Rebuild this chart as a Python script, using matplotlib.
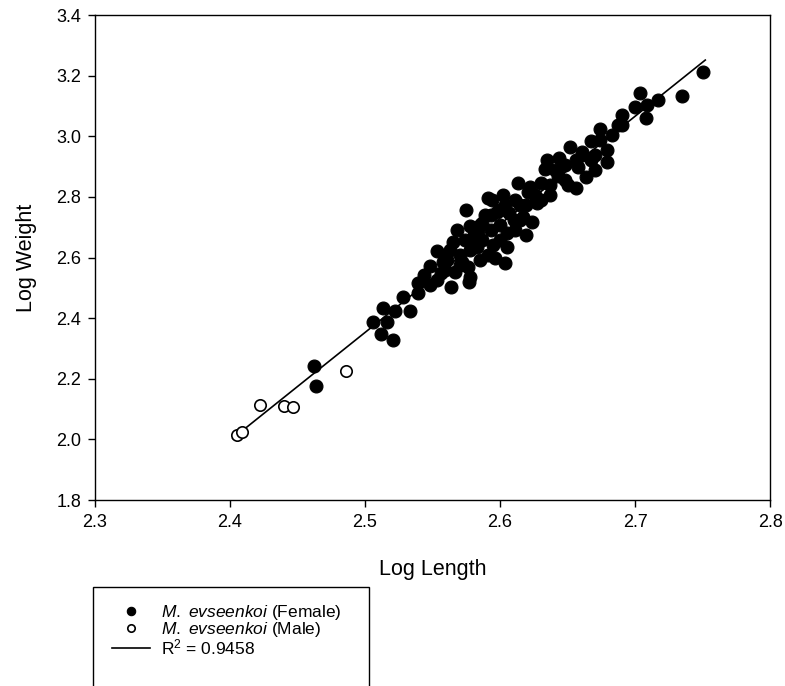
import matplotlib
matplotlib.use("Agg")
import matplotlib.pyplot as plt
from matplotlib.patches import Rectangle

plt.rcParams['font.family'] = ['Liberation Sans', 'DejaVu Sans']
plt.rcParams['mathtext.fontset'] = 'custom'
plt.rcParams['mathtext.rm'] = 'Liberation Sans'
plt.rcParams['mathtext.it'] = 'Liberation Sans:italic'

# Female points (log length, log weight)
female_len = [2.462, 2.464, 2.521, 2.512, 2.506, 2.516, 2.513, 2.522, 2.528, 2.533,
              2.539, 2.539, 2.553, 2.564, 2.577, 2.548, 2.553, 2.558, 2.567, 2.576,
              2.585, 2.570, 2.565, 2.580, 2.568, 2.578, 2.587, 2.575, 2.594, 2.602,
              2.613, 2.598, 2.607, 2.617, 2.624, 2.619, 2.605, 2.595, 2.596, 2.604,
              2.587, 2.605, 2.591, 2.622, 2.621, 2.630, 2.633, 2.635, 2.644, 2.643,
              2.652, 2.661, 2.658, 2.650, 2.656, 2.664, 2.670, 2.679, 2.679, 2.667,
              2.674, 2.687, 2.690, 2.690, 2.700, 2.704, 2.709, 2.708, 2.717, 2.735,
              2.750, 2.661, 2.627, 2.615, 2.610, 2.583, 2.561, 2.578, 2.559, 2.572,
              2.581, 2.593, 2.600, 2.611, 2.615, 2.626, 2.637, 2.641, 2.648, 2.674,
              2.683, 2.670, 2.656, 2.589, 2.584, 2.556, 2.544, 2.600, 2.611, 2.563,
              2.574, 2.593, 2.604, 2.578, 2.591, 2.570, 2.548, 2.630, 2.637, 2.648,
              2.667, 2.619, 2.600, 2.585, 2.559]
female_wt = [2.242, 2.176, 2.328, 2.348, 2.387, 2.387, 2.433, 2.423, 2.470, 2.423,
             2.516, 2.483, 2.526, 2.503, 2.519, 2.572, 2.621, 2.585, 2.552, 2.569,
             2.592, 2.608, 2.651, 2.635, 2.691, 2.704, 2.714, 2.757, 2.790, 2.806,
             2.846, 2.750, 2.747, 2.734, 2.717, 2.674, 2.681, 2.641, 2.598, 2.582,
             2.658, 2.635, 2.796, 2.833, 2.816, 2.846, 2.892, 2.922, 2.928, 2.869,
             2.965, 2.948, 2.899, 2.839, 2.829, 2.866, 2.889, 2.915, 2.955, 2.984,
             3.024, 3.037, 3.070, 3.037, 3.096, 3.143, 3.103, 3.060, 3.120, 3.133,
             3.212, 2.938, 2.780, 2.724, 2.724, 2.635, 2.592, 2.536, 2.559, 2.585,
             2.674, 2.691, 2.707, 2.790, 2.773, 2.806, 2.839, 2.889, 2.905, 2.988,
             3.004, 2.938, 2.922, 2.740, 2.684, 2.549, 2.542, 2.658, 2.691, 2.625,
             2.658, 2.740, 2.773, 2.625, 2.608, 2.575, 2.509, 2.790, 2.806, 2.856,
             2.922, 2.773, 2.757, 2.707, 2.608]

# Male points
male_len = [2.405, 2.409, 2.422, 2.440, 2.447, 2.486]
male_wt = [2.014, 2.024, 2.113, 2.110, 2.107, 2.226]

# Regression line
fit_x = [2.402, 2.752]
fit_slope = 3.566
fit_intercept = -6.562
fit_y = [fit_slope * x + fit_intercept for x in fit_x]

fig = plt.figure(figsize=(7.85, 6.86), dpi=100)
ax = fig.add_axes([0.121, 0.271, 0.860, 0.707])

h_fit, = ax.plot(fit_x, fit_y, color='black', linewidth=1.2)
h_f, = ax.plot(female_len, female_wt, 'o', color='black', markersize=9.3,
               markeredgewidth=0.8, linestyle='none')
h_m, = ax.plot(male_len, male_wt, 'o', markerfacecolor='white', markeredgecolor='black',
               markersize=8.2, markeredgewidth=1.2, linestyle='none')

ax.set_xlim(2.3, 2.8)
ax.set_ylim(1.8, 3.4)
ax.set_xticks([2.3, 2.4, 2.5, 2.6, 2.7, 2.8])
ax.set_yticks([1.8, 2.0, 2.2, 2.4, 2.6, 2.8, 3.0, 3.2, 3.4])
ax.set_xticklabels(['2.3', '2.4', '2.5', '2.6', '2.7', '2.8'])
ax.set_yticklabels(['1.8', '2.0', '2.2', '2.4', '2.6', '2.8', '3.0', '3.2', '3.4'])
ax.tick_params(direction='out', length=5, width=1, labelsize=13, colors='black', pad=5)
for s in ax.spines.values():
    s.set_linewidth(1.0)

ax.set_xlabel('Log Length', fontsize=15.5, labelpad=20)
ax.set_ylabel('Log Weight', fontsize=15.5, labelpad=14)

# legend box (runs past the bottom edge of the figure)
fig.patches.append(Rectangle((93 / 785, -0.05), (369 - 93) / 785, (686 - 587) / 686 + 0.05,
                             transform=fig.transFigure, fill=False, edgecolor='black',
                             linewidth=1.0))
leg = fig.legend([h_f, h_m, h_fit],
                 [r'$\it{M.\ evseenkoi}$ (Female)', r'$\it{M.\ evseenkoi}$ (Male)',
                  r'R$^2$ = 0.9458'],
                 loc='upper left', bbox_to_anchor=(112 / 785, 1 - 603 / 686),
                 frameon=False, fontsize=12.5, markerscale=0.65, handlelength=2.2,
                 handletextpad=0.6, labelspacing=-0.1, borderpad=0, borderaxespad=0)

fig.savefig('out.png', dpi=100)
